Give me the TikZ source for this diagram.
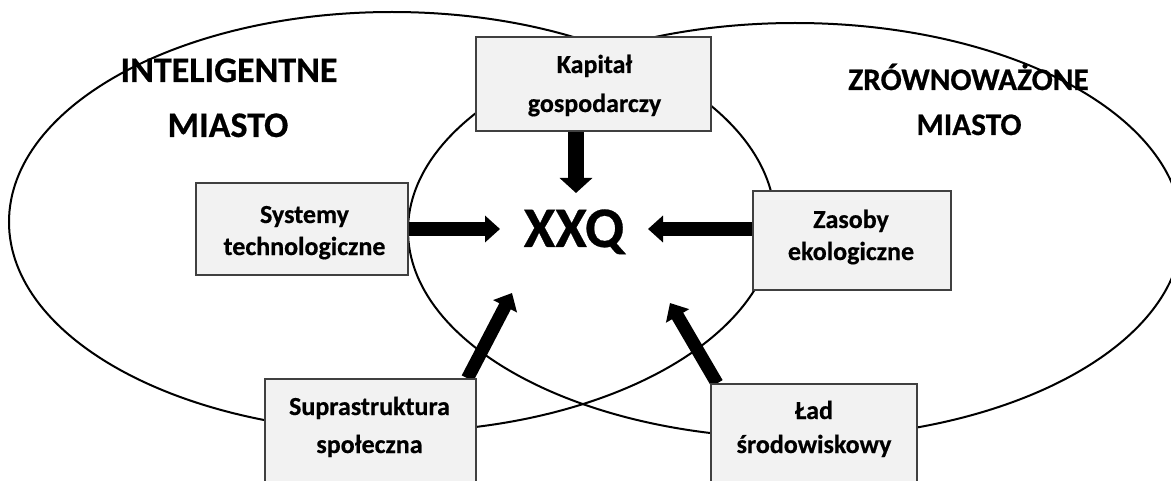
\documentclass[tikz,border=0pt]{standalone}
\usepackage{fontspec}
\setmainfont{Carlito}[BoldFeatures={FakeBold=0.5}]
\usetikzlibrary{arrows.meta,backgrounds}
\begin{document}
\begin{tikzpicture}[x=0.75pt,y=-0.75pt,
  ring/.style={draw=black,line width=1.5pt},
  factor/.style={draw=black!75,line width=0.9pt,fill=gray!10,inner sep=0pt},
  boxtext/.style={font=\bfseries\fontsize{19.5}{23}\selectfont,anchor=base,inner sep=0pt},
  citytext/.style={font=\bfseries\fontsize{#1}{#1}\selectfont,anchor=base,inner sep=0pt},
  flow/.style={line width=9.75pt,-{Triangle[length=11.25pt,width=19.5pt]}},
  wideflow/.style={line width=12pt,-{Triangle[length=11.25pt,width=24pt]}}]
\useasboundingbox (0,0) rectangle (1171,481);

% factor boxes
\node[factor,minimum width=176.25pt,minimum height=70.5pt] (kap) at (593.5,84) {};
\node[factor,minimum width=159pt,minimum height=69pt] (sys) at (302,229) {};
\node[factor,minimum width=148.5pt,minimum height=74.25pt] (zas) at (852,240.5) {};
\node[factor,minimum width=158.25pt,minimum height=90.75pt] (sup) at (370.5,439.5) {};
\node[factor,minimum width=154.5pt,minimum height=87pt] (lad) at (814,442) {};

% box captions
\node[boxtext] (kapA) at (594.5,73) {Kapitał};
\node[boxtext] (kapB) at (594.5,112) {gospodarczy};
\node[boxtext] (sysA) at (304.5,223) {Systemy};
\node[boxtext] (sysB) at (304.5,255) {technologiczne};
\node[boxtext] (zasA) at (851,228) {Zasoby};
\node[boxtext] (zasB) at (851,260) {ekologiczne};
\node[boxtext] (supA) at (369.5,415) {Suprastruktura};
\node[boxtext] (supB) at (369.5,453) {społeczna};
\node[boxtext] (ladA) at (814,419) {Ład};
\node[boxtext] (ladB) at (814,453) {środowiskowy};

% city labels and the centre
\node[citytext=27] (intA) at (229,82) {INTELIGENTNE};
\node[citytext=27] (intB) at (228,137) {MIASTO};
\node[citytext=23.5] (zrA) at (968.5,90) {ZRÓWNOWAŻONE};
\node[citytext=23.5] (zrB) at (969,135) {MIASTO};
\node[citytext=43] (xxq) at (574,247) {XXQ};

% arrow tips
\coordinate (kapTip) at (576,193);
\coordinate (sysTip) at (500,229);
\coordinate (zasTip) at (648,229);
\coordinate (supTip) at (512,293);
\coordinate (ladTip) at (670,303);

\begin{pgfonlayer}{background}
  \clip (0,0) rectangle (1171,481);
  % the two overlapping cities
  \draw[ring] (392,222) ellipse [x radius=383, y radius=210];
  \draw[ring] (795,230.5) ellipse [x radius=387, y radius=207.5];
  % flows towards the centre
  \draw[wideflow] (kap.south -| kapTip) -- (kapTip);
  \draw[flow] (sys.east) -- (sysTip);
  \draw[flow] (zas.west |- zasTip) -- (zasTip);
  \draw[flow] ([xshift=72.75pt]sup.north) -- (supTip);
  \draw[flow] ([xshift=-72.75pt]lad.north) -- (ladTip);
\end{pgfonlayer}
\end{tikzpicture}
\end{document}
